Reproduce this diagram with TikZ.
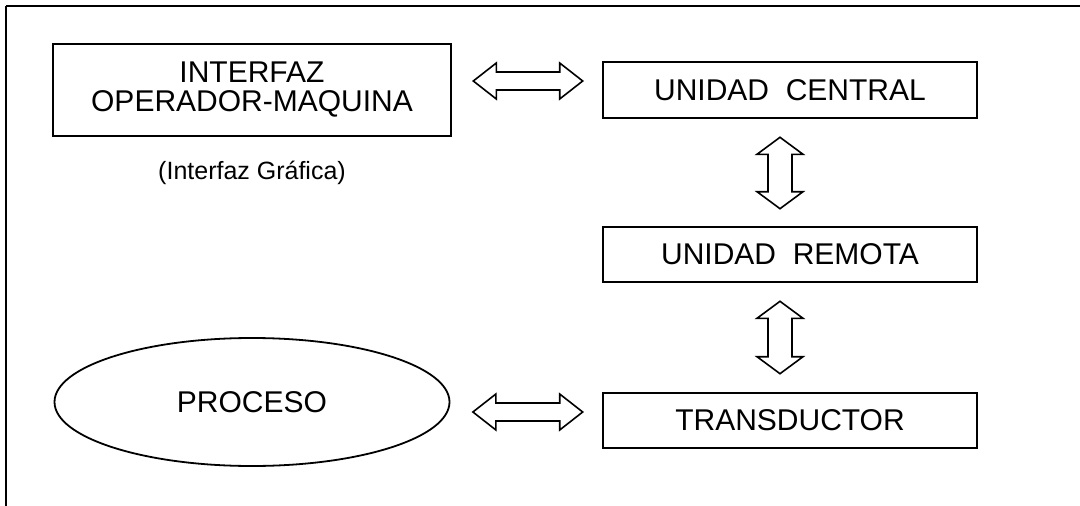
\documentclass[tikz,border=0pt]{standalone}
\usepackage{fontspec}
\setmainfont{Liberation Sans}
\usetikzlibrary{shapes.geometric,calc}
\tikzset{
  boxnode/.style={draw, line width=2.6pt, rectangle, inner sep=0pt, align=center,
    font=\fontsize{30}{29}\selectfont},
  ellnode/.style={draw, line width=1.8pt, ellipse, inner sep=0pt,
    font=\fontsize{30}{29}\selectfont},
  labnode/.style={inner sep=0pt, font=\fontsize{25}{25}\selectfont},
  fat/.style={draw, line width=1.6pt, line join=miter, fill=white},
  frameline/.style={line width=2.8pt}
}
\newcommand\fatH[2]{%
  \draw[fat] (#1) -- ($(#1)+(23,-18)$) -- ($(#1)+(23,-9)$) -- ($(#2)+(-23,-9)$)
    -- ($(#2)+(-23,-18)$) -- (#2) -- ($(#2)+(-23,18)$) -- ($(#2)+(-23,9)$)
    -- ($(#1)+(23,9)$) -- ($(#1)+(23,18)$) -- cycle;}
\newcommand\fatV[2]{%
  \draw[fat] (#1) -- ($(#1)+(23,17)$) -- ($(#1)+(12,17)$) -- ($(#2)+(12,-17)$)
    -- ($(#2)+(23,-17)$) -- (#2) -- ($(#2)+(-23,-17)$) -- ($(#2)+(-12,-17)$)
    -- ($(#1)+(-12,17)$) -- ($(#1)+(-23,17)$) -- cycle;}
\begin{document}
\begin{tikzpicture}[x=1pt,y=-1pt]
\useasboundingbox[fill=white] (0,0) rectangle (1080,506);
% frame
\draw[frameline] (6,6) -- (1080,6);
\draw[frameline] (6,6) -- (6,506);
% nodes
\node[boxnode, minimum width=398pt, minimum height=92pt] (ihm) at (252,90)
  {INTERFAZ\\OPERADOR-MAQUINA};
\node[labnode] (lab) at (252,173) {(Interfaz Gráfica)};
\node[boxnode, minimum width=374pt, minimum height=56pt] (uc) at (790,90)
  {UNIDAD\ \ CENTRAL};
\node[boxnode, minimum width=374pt, minimum height=55pt] (ur) at (790,254.5)
  {UNIDAD\ \ REMOTA};
\node[boxnode, minimum width=374pt, minimum height=55pt] (tr) at (790,420.5)
  {TRANSDUCTOR};
\node[ellnode, minimum width=395pt, minimum height=128pt] (proc) at (252,402)
  {PROCESO};
% arrow end points
\coordinate (h1a) at ($(ihm.east)+(21,-9)$);
\coordinate (h1b) at ($(uc.west)+(-19,-9)$);
\coordinate (h2a) at ($(proc.east)+(22.5,10)$);
\coordinate (h2b) at ($(tr.west)+(-19,-8.5)$);
\coordinate (v1a) at ($(uc.south)+(-10,18)$);
\coordinate (v1b) at ($(ur.north)+(-10,-17)$);
\coordinate (v2a) at ($(ur.south)+(-10,18)$);
\coordinate (v2b) at ($(tr.north)+(-10,-18)$);
% fat double arrows
\fatH{h1a}{h1b}
\fatH{h2a}{h2b}
\fatV{v1a}{v1b}
\fatV{v2a}{v2b}
\end{tikzpicture}
\end{document}
